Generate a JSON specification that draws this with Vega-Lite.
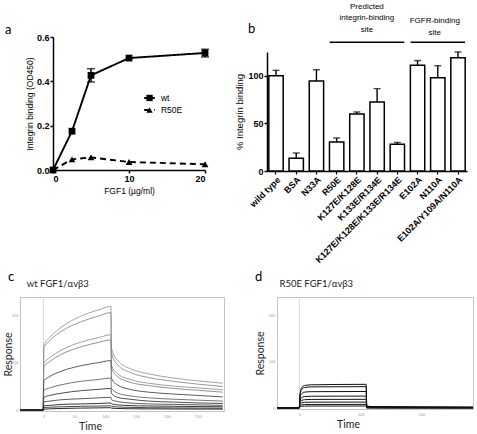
{
"$schema": "https://vega.github.io/schema/vega-lite/v6.json",
"padding": {"left": 2, "top": 2, "right": 2, "bottom": 2},
"bounds": "flush",
"spacing": 260,
"config": {"font": "Liberation Sans", "view": {"stroke": null}, "axis": {"grid": false}},
"datasets": {
"a": [
{"s":"wt","conc":0,"od":0},{"s":"wt","conc":2.5,"od":0.175},{"s":"wt","conc":5,"od":0.427},{"s":"wt","conc":10,"od":0.505},{"s":"wt","conc":20,"od":0.528},
{"s":"R50E","conc":0,"od":0},{"s":"R50E","conc":2.5,"od":0.048},{"s":"R50E","conc":5,"od":0.057},{"s":"R50E","conc":10,"od":0.036},{"s":"R50E","conc":20,"od":0.026}
],
"aErr": [
{"s":"wt","conc":5,"lo":0.397,"hi":0.457},{"s":"wt","conc":20,"lo":0.51,"hi":0.545}
],
"aLeg": [
{"s":"wt","x1":12.0,"x2":13.4,"xm":12.7,"xt":14.2,"y":0.325},
{"s":"R50E","x1":12.0,"x2":13.4,"xm":12.7,"xt":14.2,"y":0.271}
],
"b": [
{"name":"wild type","v":100,"hi":105.7},
{"name":"BSA","v":13.3,"hi":18.9},
{"name":"N33A","v":94.5,"hi":106.4},
{"name":"R50E","v":30.5,"hi":34.7},
{"name":"K127E/K128E","v":59.9,"hi":62},
{"name":"K133E/R134E","v":72.5,"hi":86.5},
{"name":"K127E/K128E/K133E/R134E","v":28,"hi":30},
{"name":"E102A","v":111,"hi":116},
{"name":"N110A","v":98,"hi":110.6},
{"name":"E102A/Y109A/N110A","v":119,"hi":125}
],
"bRule": [
{"from":"R50E","to":"K127E/K128E/K133E/R134E","y":135.2},
{"from":"E102A","to":"E102A/Y109A/N110A","y":135.2}
],
"c": [
{"k":1,"t":-38,"r":0},{"k":1,"t":-0.5,"r":0},{"k":1,"t":0.5,"r":138},{"k":1,"t":10,"r":154},{"k":1,"t":30,"r":177},{"k":1,"t":60,"r":199},{"k":1,"t":90,"r":213},{"k":1,"t":109,"r":220},{"k":1,"t":110,"r":131},{"k":1,"t":120,"r":105},{"k":1,"t":140,"r":88},{"k":1,"t":170,"r":77},{"k":1,"t":210,"r":68},{"k":1,"t":250,"r":62},{"k":1,"t":290,"r":57},
{"k":2,"t":-38,"r":0},{"k":2,"t":-0.5,"r":0},{"k":2,"t":0.5,"r":132},{"k":2,"t":10,"r":147},{"k":2,"t":30,"r":168},{"k":2,"t":60,"r":187},{"k":2,"t":90,"r":200},{"k":2,"t":109,"r":207},{"k":2,"t":110,"r":121},{"k":2,"t":120,"r":96},{"k":2,"t":140,"r":80},{"k":2,"t":170,"r":69},{"k":2,"t":210,"r":61},{"k":2,"t":250,"r":55},{"k":2,"t":290,"r":50},
{"k":3,"t":-38,"r":0},{"k":3,"t":-0.5,"r":0},{"k":3,"t":0.5,"r":99},{"k":3,"t":10,"r":111},{"k":3,"t":30,"r":128},{"k":3,"t":60,"r":144},{"k":3,"t":90,"r":154},{"k":3,"t":109,"r":160},{"k":3,"t":110,"r":96},{"k":3,"t":120,"r":77},{"k":3,"t":140,"r":65},{"k":3,"t":170,"r":57},{"k":3,"t":210,"r":51},{"k":3,"t":250,"r":47},{"k":3,"t":290,"r":43},
{"k":4,"t":-38,"r":0},{"k":4,"t":-0.5,"r":0},{"k":4,"t":0.5,"r":92},{"k":4,"t":10,"r":103},{"k":4,"t":30,"r":119},{"k":4,"t":60,"r":134},{"k":4,"t":90,"r":144},{"k":4,"t":109,"r":149},{"k":4,"t":110,"r":89},{"k":4,"t":120,"r":71},{"k":4,"t":140,"r":59},{"k":4,"t":170,"r":52},{"k":4,"t":210,"r":46},{"k":4,"t":250,"r":42},{"k":4,"t":290,"r":38},
{"k":5,"t":-38,"r":0},{"k":5,"t":-0.5,"r":0},{"k":5,"t":0.5,"r":62},{"k":5,"t":10,"r":71},{"k":5,"t":30,"r":83},{"k":5,"t":60,"r":94},{"k":5,"t":90,"r":101},{"k":5,"t":109,"r":105},{"k":5,"t":110,"r":67},{"k":5,"t":120,"r":53},{"k":5,"t":140,"r":44},{"k":5,"t":170,"r":38},{"k":5,"t":210,"r":34},{"k":5,"t":250,"r":31},{"k":5,"t":290,"r":28},
{"k":6,"t":-38,"r":0},{"k":6,"t":-0.5,"r":0},{"k":6,"t":0.5,"r":42},{"k":6,"t":10,"r":47},{"k":6,"t":30,"r":54},{"k":6,"t":60,"r":61},{"k":6,"t":90,"r":65},{"k":6,"t":109,"r":68},{"k":6,"t":110,"r":46},{"k":6,"t":120,"r":36},{"k":6,"t":140,"r":30},{"k":6,"t":170,"r":26},{"k":6,"t":210,"r":23},{"k":6,"t":250,"r":21},{"k":6,"t":290,"r":19},
{"k":7,"t":-38,"r":0},{"k":7,"t":-0.5,"r":0},{"k":7,"t":0.5,"r":27},{"k":7,"t":10,"r":31},{"k":7,"t":30,"r":36},{"k":7,"t":60,"r":41},{"k":7,"t":90,"r":44},{"k":7,"t":109,"r":46},{"k":7,"t":110,"r":35},{"k":7,"t":120,"r":27},{"k":7,"t":140,"r":23},{"k":7,"t":170,"r":19},{"k":7,"t":210,"r":17},{"k":7,"t":250,"r":15},{"k":7,"t":290,"r":14},
{"k":8,"t":-38,"r":0},{"k":8,"t":-0.5,"r":0},{"k":8,"t":0.5,"r":17},{"k":8,"t":10,"r":19},{"k":8,"t":30,"r":22},{"k":8,"t":60,"r":24},{"k":8,"t":90,"r":26},{"k":8,"t":109,"r":27},{"k":8,"t":110,"r":22},{"k":8,"t":120,"r":18},{"k":8,"t":140,"r":15},{"k":8,"t":170,"r":13},{"k":8,"t":210,"r":12},{"k":8,"t":250,"r":11},{"k":8,"t":290,"r":10},
{"k":9,"t":-38,"r":0},{"k":9,"t":-0.5,"r":0},{"k":9,"t":0.5,"r":9},{"k":9,"t":10,"r":10},{"k":9,"t":30,"r":12},{"k":9,"t":60,"r":13},{"k":9,"t":90,"r":14},{"k":9,"t":109,"r":15},{"k":9,"t":110,"r":13},{"k":9,"t":120,"r":11},{"k":9,"t":140,"r":9.5},{"k":9,"t":170,"r":8.6},{"k":9,"t":210,"r":8},{"k":9,"t":250,"r":7.4},{"k":9,"t":290,"r":7},
{"k":10,"t":-38,"r":0},{"k":10,"t":-0.5,"r":0},{"k":10,"t":0.5,"r":5},{"k":10,"t":10,"r":6},{"k":10,"t":30,"r":7},{"k":10,"t":60,"r":8},{"k":10,"t":90,"r":8.6},{"k":10,"t":109,"r":9},{"k":10,"t":110,"r":8},{"k":10,"t":120,"r":6.6},{"k":10,"t":140,"r":5.7},{"k":10,"t":170,"r":5},{"k":10,"t":210,"r":4.6},{"k":10,"t":250,"r":4.3},{"k":10,"t":290,"r":4},
{"k":11,"t":-38,"r":0},{"k":11,"t":-0.5,"r":0},{"k":11,"t":0.5,"r":2},{"k":11,"t":10,"r":2.6},{"k":11,"t":30,"r":3.4},{"k":11,"t":60,"r":4.2},{"k":11,"t":90,"r":4.7},{"k":11,"t":109,"r":5},{"k":11,"t":110,"r":4},{"k":11,"t":120,"r":3.3},{"k":11,"t":140,"r":2.8},{"k":11,"t":170,"r":2.5},{"k":11,"t":210,"r":2.3},{"k":11,"t":250,"r":2.1},{"k":11,"t":290,"r":2}
],
"d": [
{"k":1,"t":-37,"r":0.5},{"k":1,"t":-0.5,"r":0.5},{"k":1,"t":0.5,"r":28},{"k":1,"t":3,"r":43},{"k":1,"t":8,"r":49},{"k":1,"t":20,"r":50.5},{"k":1,"t":109,"r":51.5},{"k":1,"t":110,"r":4},{"k":1,"t":130,"r":3},{"k":1,"t":200,"r":2.5},{"k":1,"t":284,"r":2},
{"k":2,"t":-37,"r":0.5},{"k":2,"t":-0.5,"r":0.5},{"k":2,"t":0.5,"r":25.6},{"k":2,"t":3,"r":39.5},{"k":2,"t":8,"r":44.6},{"k":2,"t":20,"r":46},{"k":2,"t":109,"r":46.5},{"k":2,"t":110,"r":3.7},{"k":2,"t":130,"r":2.8},{"k":2,"t":200,"r":2.3},{"k":2,"t":284,"r":1.9},
{"k":3,"t":-37,"r":0.5},{"k":3,"t":-0.5,"r":0.5},{"k":3,"t":0.5,"r":19.8},{"k":3,"t":3,"r":30.6},{"k":3,"t":8,"r":34.6},{"k":3,"t":20,"r":35.6},{"k":3,"t":109,"r":36},{"k":3,"t":110,"r":2.9},{"k":3,"t":130,"r":2.2},{"k":3,"t":200,"r":1.8},{"k":3,"t":284,"r":1.4},
{"k":4,"t":-37,"r":0.5},{"k":4,"t":-0.5,"r":0.5},{"k":4,"t":0.5,"r":14.3},{"k":4,"t":3,"r":22},{"k":4,"t":8,"r":25},{"k":4,"t":20,"r":25.7},{"k":4,"t":109,"r":26},{"k":4,"t":110,"r":2.1},{"k":4,"t":130,"r":1.6},{"k":4,"t":200,"r":1.3},{"k":4,"t":284,"r":1},
{"k":5,"t":-37,"r":0.5},{"k":5,"t":-0.5,"r":0.5},{"k":5,"t":0.5,"r":10.5},{"k":5,"t":3,"r":16},{"k":5,"t":8,"r":18.2},{"k":5,"t":20,"r":18.8},{"k":5,"t":109,"r":19},{"k":5,"t":110,"r":1.5},{"k":5,"t":130,"r":1.1},{"k":5,"t":200,"r":1},{"k":5,"t":284,"r":0.8},
{"k":6,"t":-37,"r":0.5},{"k":6,"t":-0.5,"r":0.5},{"k":6,"t":0.5,"r":7.2},{"k":6,"t":3,"r":11},{"k":6,"t":8,"r":12.5},{"k":6,"t":20,"r":12.9},{"k":6,"t":109,"r":13},{"k":6,"t":110,"r":1},{"k":6,"t":130,"r":0.8},{"k":6,"t":200,"r":0.7},{"k":6,"t":284,"r":0.5},
{"k":7,"t":-37,"r":0.5},{"k":7,"t":-0.5,"r":0.5},{"k":7,"t":0.5,"r":4.4},{"k":7,"t":3,"r":6.8},{"k":7,"t":8,"r":7.7},{"k":7,"t":20,"r":7.9},{"k":7,"t":109,"r":8},{"k":7,"t":110,"r":0.6},{"k":7,"t":130,"r":0.5},{"k":7,"t":200,"r":0.4},{"k":7,"t":284,"r":0.3},
{"k":8,"t":-37,"r":0.5},{"k":8,"t":-0.5,"r":0.5},{"k":8,"t":0.5,"r":2.5},{"k":8,"t":3,"r":3.8},{"k":8,"t":8,"r":4.3},{"k":8,"t":20,"r":4.45},{"k":8,"t":109,"r":4.5},{"k":8,"t":110,"r":0.4},{"k":8,"t":130,"r":0.3},{"k":8,"t":200,"r":0.2},{"k":8,"t":284,"r":0.2}
]
},
"vconcat": [
{
"hconcat": [
{
"width": 185, "height": 133,
"title": {"text": "a", "anchor": "start", "frame": "group", "dx": -15, "dy": 4, "offset": 0, "font": "Lato", "fontSize": 13, "fontWeight": "normal", "color": "black"},
"layer": [
{
"data": {"name": "a"},
"mark": {"type": "line", "color": "black", "strokeWidth": 1.9},
"encoding": {
"x": {"field": "conc", "type": "quantitative", "title": "FGF1 (µg/ml)", "scale": {"domain": [0, 20], "range": [33, 185], "nice": false},
"axis": {"values": [0, 10, 20], "format": "d", "labelFontWeight": "bold", "labelFontSize": 9, "labelColor": "black", "titleFontSize": 8.5, "titleFontWeight": "normal", "titleColor": "black", "domainColor": "black", "domainWidth": 1.5, "tickColor": "black", "tickWidth": 1.5, "tickSize": 3, "labelPadding": 1, "titlePadding": 3}},
"y": {"field": "od", "type": "quantitative", "title": "Integrin binding (OD450)", "scale": {"domain": [0, 0.6], "nice": false},
"axis": {"values": [0, 0.1, 0.2, 0.3, 0.4, 0.5, 0.6], "format": ".1f", "offset": -33, "labelFontWeight": "bold", "labelFontSize": 9, "labelColor": "black", "titleFontSize": 8.5, "titleFontWeight": "normal", "titleColor": "black", "domainColor": "black", "domainWidth": 1.5, "tickColor": "black", "tickWidth": 1.5, "tickSize": 3, "labelPadding": 1, "titlePadding": 2}},
"strokeDash": {"field": "s", "type": "nominal", "scale": {"domain": ["wt", "R50E"], "range": [[1, 0], [6, 4]]}, "legend": null}
}
},
{
"data": {"name": "a"},
"mark": {"type": "point", "filled": true, "color": "black", "size": 46, "opacity": 1},
"encoding": {
"x": {"field": "conc", "type": "quantitative", "title": "FGF1 (µg/ml)"},
"y": {"field": "od", "type": "quantitative", "title": "Integrin binding (OD450)"},
"shape": {"field": "s", "type": "nominal", "scale": {"domain": ["wt", "R50E"], "range": ["square", "triangle-up"]}, "legend": null}
}
},
{
"data": {"name": "aErr"},
"mark": {"type": "errorbar", "ticks": {"size": 8, "thickness": 1.5, "color": "black"}, "rule": {"strokeWidth": 1.5, "color": "black"}},
"encoding": {
"x": {"field": "conc", "type": "quantitative", "title": "FGF1 (µg/ml)"},
"y": {"field": "lo", "type": "quantitative", "title": "Integrin binding (OD450)"},
"y2": {"field": "hi"}
}
},
{
"data": {"name": "aLeg"},
"mark": {"type": "rule", "color": "black", "strokeWidth": 1.9},
"encoding": {
"x": {"field": "x1", "type": "quantitative", "title": "FGF1 (µg/ml)"},
"x2": {"field": "x2"},
"y": {"field": "y", "type": "quantitative", "title": "Integrin binding (OD450)"},
"strokeDash": {"field": "s", "type": "nominal", "legend": null}
}
},
{
"data": {"name": "aLeg"},
"mark": {"type": "point", "filled": true, "color": "black", "size": 40, "opacity": 1},
"encoding": {
"x": {"field": "xm", "type": "quantitative", "title": "FGF1 (µg/ml)"},
"y": {"field": "y", "type": "quantitative", "title": "Integrin binding (OD450)"},
"shape": {"field": "s", "type": "nominal", "legend": null}
}
},
{
"data": {"name": "aLeg"},
"mark": {"type": "text", "align": "left", "baseline": "middle", "fontSize": 8.5, "color": "black"},
"encoding": {
"x": {"field": "xt", "type": "quantitative", "title": "FGF1 (µg/ml)"},
"y": {"field": "y", "type": "quantitative", "title": "Integrin binding (OD450)"},
"text": {"field": "s"}
}
}
]
},
{
"width": 200, "height": 134,
"title": {"text": "b", "anchor": "start", "frame": "group", "dx": -19, "dy": 33, "offset": 0, "font": "Lato", "fontSize": 13, "fontWeight": "normal", "color": "black"},
"layer": [
{
"data": {"name": "b"},
"mark": {"type": "bar", "fill": "white", "stroke": "black", "strokeWidth": 1.5},
"encoding": {
"x": {"field": "name", "type": "nominal", "sort": null,
"scale": {"domain": ["wild type", "BSA", "N33A", "R50E", "K127E/K128E", "K133E/R134E", "K127E/K128E/K133E/R134E", "E102A", "N110A", "E102A/Y109A/N110A"], "paddingInner": 0.29, "paddingOuter": 0.09},
"axis": {"title": null, "labelAngle": -45, "labelFontWeight": "bold", "labelFontSize": 9, "labelColor": "black", "domainColor": "black", "domainWidth": 1.5, "tickColor": "black", "tickWidth": 1.2, "tickSize": 3, "labelPadding": 1}},
"y": {"field": "v", "type": "quantitative", "title": "% Integrin binding", "scale": {"domain": [0, 125], "range": [134, 15], "nice": false},
"axis": {"values": [0, 25, 50, 75, 100, 125], "labelFontWeight": "bold", "labelFontSize": 9, "labelColor": "black", "titleFontSize": 9.5, "titleFontWeight": "normal", "titleColor": "black", "domainColor": "black", "domainWidth": 1.5, "tickColor": "black", "tickWidth": 1.5, "tickSize": 3, "labelPadding": 1, "titlePadding": 3}}
}
},
{
"data": {"name": "b"},
"mark": {"type": "rule", "color": "black", "strokeWidth": 1.4},
"encoding": {
"x": {"field": "name", "type": "nominal"},
"y": {"field": "v", "type": "quantitative", "title": "% Integrin binding"},
"y2": {"field": "hi"}
}
},
{
"data": {"name": "b"},
"mark": {"type": "tick", "color": "black", "thickness": 1.4, "size": 7, "orient": "horizontal"},
"encoding": {
"x": {"field": "name", "type": "nominal"},
"y": {"field": "hi", "type": "quantitative", "title": "% Integrin binding"}
}
},
{
"data": {"name": "bRule"},
"mark": {"type": "rule", "color": "black", "strokeWidth": 1.5, "xOffset": -7, "x2Offset": 7},
"encoding": {
"x": {"field": "from", "type": "nominal"},
"x2": {"field": "to"},
"y": {"field": "y", "type": "quantitative", "title": "% Integrin binding"}
}
},
{
"data": {"values": [{"at": "K127E/K128E", "y": 170.5, "label": "Predicted\nintegrin-binding\nsite"}]},
"mark": {"type": "text", "lineBreak": "\n", "fontSize": 8, "lineHeight": 11.5, "baseline": "alphabetic", "align": "center", "dx": 10, "color": "black"},
"encoding": {
"x": {"field": "at", "type": "nominal"},
"y": {"field": "y", "type": "quantitative", "title": "% Integrin binding"},
"text": {"field": "label"}
}
},
{
"data": {"values": [{"at": "N110A", "y": 155.5, "label": "FGFR-binding\nsite"}]},
"mark": {"type": "text", "lineBreak": "\n", "fontSize": 8, "lineHeight": 12, "baseline": "alphabetic", "align": "center", "dx": -3, "color": "black"},
"encoding": {
"x": {"field": "at", "type": "nominal"},
"y": {"field": "y", "type": "quantitative", "title": "% Integrin binding"},
"text": {"field": "label"}
}
}
]
}
],
"spacing": 62,
"bounds": "flush"
},
{
"hconcat": [
{
"width": 204, "height": 114,
"view": {"stroke": "#c4c4c4", "strokeWidth": 1},
"title": {"text": "c", "anchor": "start", "frame": "group", "dx": -12, "dy": 5, "offset": 0, "font": "Lato", "fontSize": 13, "fontWeight": "normal", "color": "black"},
"layer": [
{
"data": {"values": [{"t": 0}]},
"mark": {"type": "rule", "color": "#dcdcdc", "strokeWidth": 1},
"encoding": {
"x": {"field": "t", "type": "quantitative", "title": "Time", "scale": {"domain": [-38, 292], "nice": false, "zero": false},
"axis": {"values": [0, 50, 100, 150, 200, 250], "domain": false, "ticks": false, "labelFontSize": 4, "labelColor": "#999", "labelPadding": 3, "titleFont": "Lato", "titleFontSize": 10.5, "titleFontWeight": "normal", "titleColor": "#222", "titleX": 70, "titlePadding": 3}}
}
},
{
"data": {"name": "c"},
"mark": {"type": "line", "strokeWidth": 0.9, "interpolate": "monotone"},
"encoding": {
"x": {"field": "t", "type": "quantitative", "title": "Time"},
"y": {"field": "r", "type": "quantitative", "title": "Response", "scale": {"domain": [-2, 240], "nice": false, "zero": false},
"axis": {"values": [0, 50, 100, 150, 200], "domain": false, "ticks": false, "labelFontSize": 4, "labelColor": "#999", "labelPadding": 2, "titleFont": "Lato", "titleFontSize": 10.5, "titleFontWeight": "normal", "titleColor": "#222", "titleAngle": 270, "titleBaseline": "bottom", "titleX": -7}},
"color": {"field": "k", "type": "ordinal", "scale": {"domain": [1, 2, 3, 4, 5, 6, 7, 8, 9, 10, 11], "range": ["#9a9a9a", "#8c8c8c", "#959595", "#858585", "#4a4a4a", "#666666", "#3a3a3a", "#4a4a4a", "#222222", "#333333", "#111111"]}, "legend": null}
}
},
{
"data": {"values": [{"t": -27, "r": 268, "label": "wt FGF1/αvβ3"}]},
"mark": {"type": "text", "align": "left", "baseline": "middle", "font": "Lato", "fontSize": 9.5, "color": "#222"},
"encoding": {
"x": {"field": "t", "type": "quantitative", "title": "Time"},
"y": {"field": "r", "type": "quantitative", "title": "Response"},
"text": {"field": "label"}
}
}
]
},
{
"width": 196, "height": 112,
"view": {"stroke": "#c4c4c4", "strokeWidth": 1},
"title": {"text": "d", "anchor": "start", "frame": "group", "dx": -22, "dy": 5, "offset": 0, "font": "Lato", "fontSize": 13, "fontWeight": "normal", "color": "black"},
"layer": [
{
"data": {"values": [{"t": 0}]},
"mark": {"type": "rule", "color": "#dcdcdc", "strokeWidth": 1},
"encoding": {
"x": {"field": "t", "type": "quantitative", "title": "Time", "scale": {"domain": [-37, 284], "nice": false, "zero": false},
"axis": {"values": [0, 50, 100, 150, 200, 250], "domain": false, "ticks": false, "labelFontSize": 4, "labelColor": "#999", "labelPadding": 3, "titleFont": "Lato", "titleFontSize": 10.5, "titleFontWeight": "normal", "titleColor": "#222", "titleX": 71, "titlePadding": 3}}
}
},
{
"data": {"name": "d"},
"mark": {"type": "line", "strokeWidth": 1, "color": "#111", "interpolate": "monotone"},
"encoding": {
"x": {"field": "t", "type": "quantitative", "title": "Time"},
"y": {"field": "r", "type": "quantitative", "title": "Response", "scale": {"domain": [-2, 241], "nice": false, "zero": false},
"axis": {"values": [0, 50, 100, 150, 200], "domain": false, "ticks": false, "labelFontSize": 4, "labelColor": "#999", "labelPadding": 2, "titleFont": "Lato", "titleFontSize": 10.5, "titleFontWeight": "normal", "titleColor": "#222", "titleAngle": 270, "titleBaseline": "bottom", "titleX": -12}},
"detail": {"field": "k", "type": "nominal"}
}
},
{
"data": {"values": [{"t": -33, "r": 269, "label": "R50E FGF1/αvβ3"}]},
"mark": {"type": "text", "align": "left", "baseline": "middle", "font": "Lato", "fontSize": 9.5, "color": "#222"},
"encoding": {
"x": {"field": "t", "type": "quantitative", "title": "Time"},
"y": {"field": "r", "type": "quantitative", "title": "Response"},
"text": {"field": "label"}
}
}
]
}
],
"spacing": 53,
"bounds": "flush"
}
]
}
